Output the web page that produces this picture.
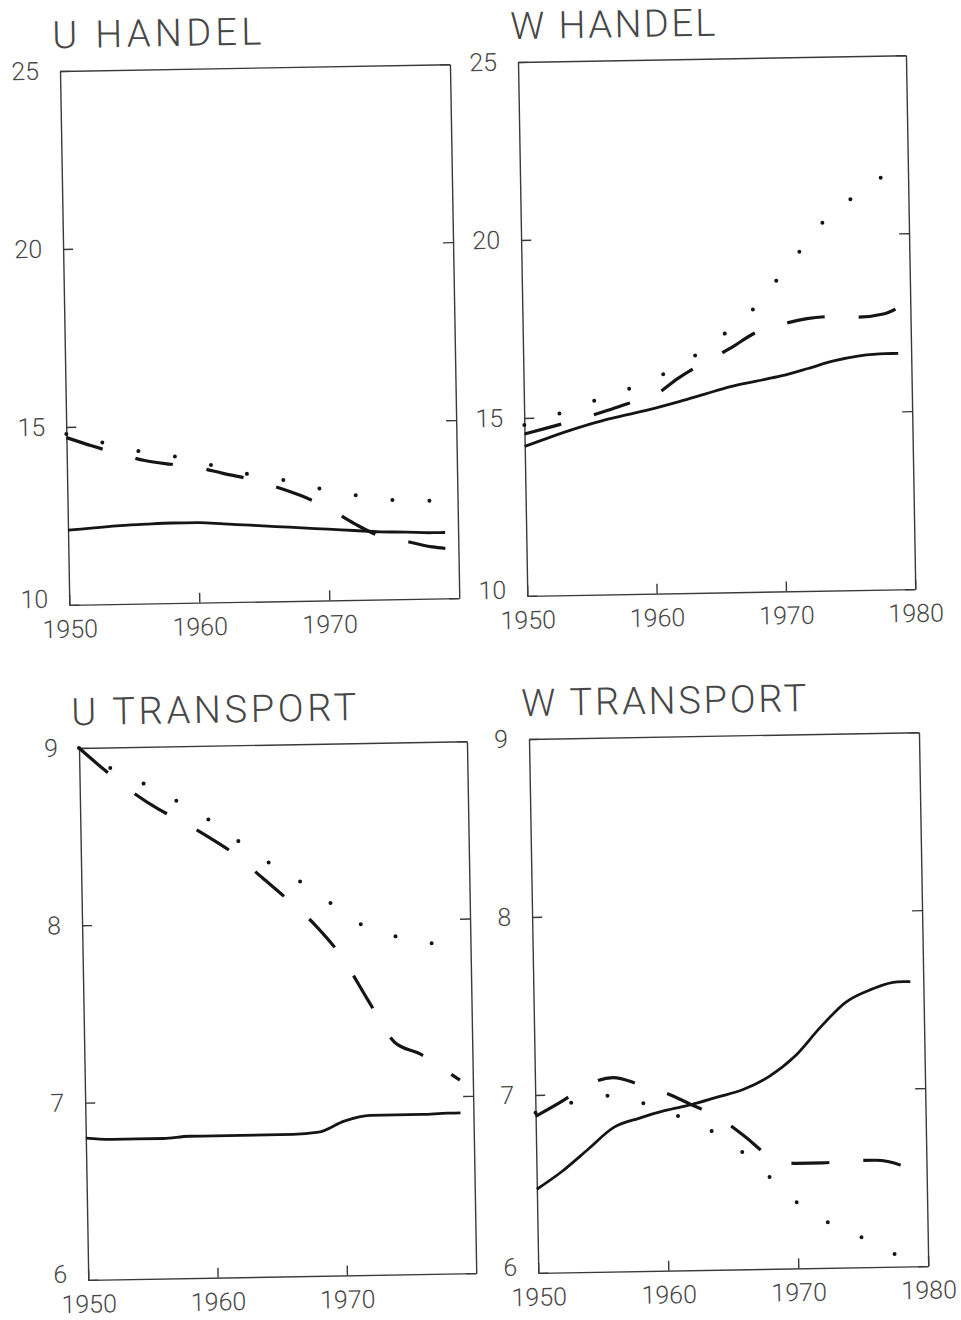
<!DOCTYPE html>
<html>
<head>
<meta charset="utf-8">
<script src="https://cdn.jsdelivr.net/npm/d3@7"></script>
<style>
  body { margin: 0; background: #fff; }
  svg text { font-family: Roboto, 'DejaVu Sans', sans-serif; font-weight: 300; fill: #474747; }
</style>
</head>
<body>
<div id="chart"></div>
<script>
// sample years shared by every series
const years = [1950, 1952, 1954, 1956, 1958, 1960, 1962, 1964, 1966, 1968, 1970, 1972, 1974, 1976, 1978, 1979];

const titles = ['U HANDEL', 'W HANDEL', 'U TRANSPORT', 'W TRANSPORT'];
const xTicksLeft = [1950, 1960, 1970];
const xTicksRight = [1950, 1960, 1970, 1980];
const handelTicks = [10, 15, 20, 25];
const transportTicks = [6, 7, 8, 9];

// U HANDEL
const uHandelSolid = [12.1, 12.15, 12.2, 12.23, 12.25, 12.25, 12.2, 12.15, 12.1, 12.05, 12.0, 11.95, 11.9, 11.88, 11.85, 11.85];
const uHandelDashed = [14.7, 14.45, 14.22, 14.02, 13.9, 13.8, 13.62, 13.45, 13.22, 12.95, 12.6, 12.15, 11.78, 11.62, 11.45, 11.4];
const uHandelDotted = [14.8, 14.62, 14.42, 14.25, 14.14, 13.97, 13.77, 13.58, 13.45, 13.29, 13.09, 12.95, 12.84, 12.76, 12.75, 12.75];

// W HANDEL
const wHandelSolid = [14.2, 14.45, 14.68, 14.88, 15.04, 15.2, 15.38, 15.58, 15.78, 15.92, 16.06, 16.25, 16.45, 16.58, 16.63, 16.63];
const wHandelDashed = [14.55, 14.73, 14.92, 15.12, 15.35, 15.55, 16.05, 16.47, 16.85, 17.28, 17.5, 17.65, 17.7, 17.67, 17.75, 17.9];
const wHandelDotted = [14.8, 15.02, 15.27, 15.52, 15.75, 16.03, 16.38, 16.84, 17.38, 18.0, 18.88, 19.75, 20.6, 21.1, 21.6, 21.87];

// U TRANSPORT
const uTransportSolid = [6.8, 6.79, 6.79, 6.79, 6.8, 6.8, 6.8, 6.8, 6.8, 6.81, 6.87, 6.9, 6.9, 6.9, 6.905, 6.905];
const uTransportDashed = [9.0, 8.87, 8.75, 8.65, 8.57, 8.48, 8.38, 8.25, 8.12, 7.98, 7.8, 7.55, 7.31, 7.24, 7.14, 7.09];
const uTransportDotted = [9.0, 8.9, 8.83, 8.75, 8.67, 8.58, 8.47, 8.36, 8.27, 8.17, 8.06, 7.96, 7.91, 7.89, 7.83, 7.79];

// W TRANSPORT
const wTransportSolid = [6.47, 6.57, 6.69, 6.81, 6.86, 6.9, 6.93, 6.97, 7.01, 7.08, 7.19, 7.35, 7.49, 7.56, 7.6, 7.6];
const wTransportDashed = [6.88, 6.96, 7.05, 7.09, 7.05, 7.0, 6.93, 6.86, 6.75, 6.63, 6.59, 6.59, 6.6, 6.6, 6.57, 6.5];
const wTransportDotted = [6.9, 6.94, 6.97, 6.99, 6.95, 6.9, 6.83, 6.76, 6.65, 6.51, 6.37, 6.27, 6.2, 6.13, 6.05, 6.02];

// panel layout (scanned page is tilted about one degree)
const panels = [
  { title: titles[0], x: 60, y: 71, w: 390, h: 534, yTicks: handelTicks, xTicks: xTicksLeft, titleLen: 209,
    series: [uHandelSolid, uHandelDashed, uHandelDotted] },
  { title: titles[1], x: 518, y: 62, w: 388, h: 534, yTicks: handelTicks, xTicks: xTicksRight, titleLen: 205,
    series: [wHandelSolid, wHandelDashed, wHandelDotted] },
  { title: titles[2], x: 79, y: 748, w: 388, h: 532, yTicks: transportTicks, xTicks: xTicksLeft, titleLen: 285,
    series: [uTransportSolid, uTransportDashed, uTransportDotted] },
  { title: titles[3], x: 529, y: 739, w: 390, h: 534, yTicks: transportTicks, xTicks: xTicksRight, titleLen: 285,
    series: [wTransportSolid, wTransportDashed, wTransportDotted] }
];

const lineStyles = [
  { width: 2.8, dash: null, cap: 'butt' },
  { width: 3.2, dash: '38 34', cap: 'butt' },
  { width: 4, dash: '0 37', cap: 'round' }
];

const svg = d3
  .select('#chart')
  .append('svg')
  .attr('width', 961)
  .attr('height', 1320);

panels.forEach(p => {
  const g = svg
    .append('g')
    .attr('transform', `translate(${p.x}, ${p.y}) rotate(-1)`);

  const xScale = d3
    .scaleLinear()
    .domain([1950, 1980])
    .range([0, p.w]);

  const yScale = d3
    .scaleLinear()
    .domain([p.yTicks[0], p.yTicks[p.yTicks.length - 1]])
    .range([p.h, 0]);

  // box with inward ticks
  const left = g
    .append('g')
    .attr('class', 'axis')
    .call(
      d3
        .axisLeft(yScale)
        .tickValues(p.yTicks)
        .tickSizeInner(-10)
        .tickSizeOuter(0)
        .tickPadding(21)
        .tickFormat(d3.format('d'))
    );

  // lowest label sits a little higher so it clears the year below
  left
    .selectAll('.tick')
    .filter(d => d === p.yTicks[0])
    .select('text')
    .attr('y', -6);

  g.append('g')
    .attr('class', 'axis')
    .attr('transform', `translate(${p.w}, 0)`)
    .call(
      d3
        .axisRight(yScale)
        .tickValues(p.yTicks)
        .tickSizeInner(-10)
        .tickSizeOuter(0)
        .tickFormat('')
    );

  g.append('g')
    .attr('class', 'axis')
    .attr('transform', `translate(0, ${p.h})`)
    .call(
      d3
        .axisBottom(xScale)
        .tickValues(p.xTicks)
        .tickSizeInner(-10)
        .tickSizeOuter(0)
        .tickPadding(15)
        .tickFormat(d3.format('d'))
    );

  g.append('g')
    .attr('class', 'axis')
    .call(
      d3
        .axisTop(xScale)
        .tickValues([])
        .tickSizeOuter(0)
    );

  g.selectAll('.axis path, .axis line')
    .attr('stroke', '#3a3a3a')
    .attr('stroke-width', 1.4);

  g.selectAll('.axis text')
    .style('font-size', '25px')
    .attr('fill', '#474747');

  // title
  g.append('text')
    .attr('x', -7)
    .attr('y', -23)
    .attr('textLength', p.titleLen)
    .attr('lengthAdjust', 'spacing')
    .style('font-size', '38px')
    .text(p.title);

  const line = d3
    .line()
    .x((d, i) => xScale(years[i]))
    .y(d => yScale(d))
    .curve(d3.curveMonotoneX);

  p.series.forEach((values, k) => {
    const st = lineStyles[k];
    g.append('path')
      .datum(values)
      .attr('fill', 'none')
      .attr('stroke', '#151515')
      .attr('stroke-width', st.width)
      .attr('stroke-linecap', st.cap)
      .attr('stroke-dasharray', st.dash)
      .attr('d', line);
  });
});
</script>
</body>
</html>
